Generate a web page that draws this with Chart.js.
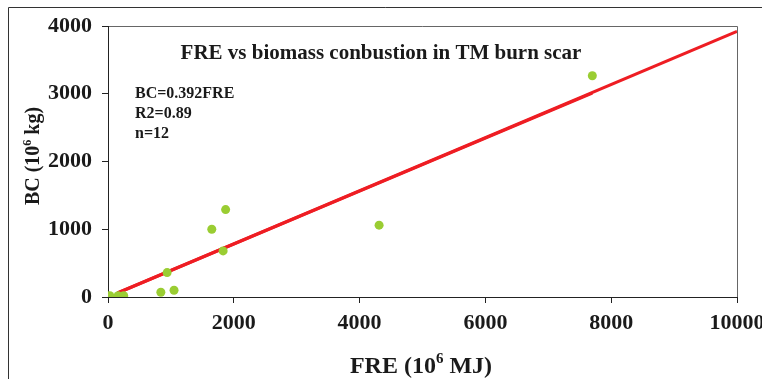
<!DOCTYPE html>
<html>
<head>
<meta charset="utf-8">
<script src="https://cdn.jsdelivr.net/npm/chart.js@4/dist/chart.umd.min.js"></script>
<style>
html,body{margin:0;padding:0;background:#fff;}
#wrap{width:762px;height:379px;}
</style>
</head>
<body>
<div id="wrap"><canvas id="c" width="762" height="379"></canvas></div>
<script>
// Observed data (FRE in 10^6 MJ, BC in 10^6 kg)
const freValues = [10, 30, 160, 250, 840, 940, 1050, 1650, 1830, 1870, 4310, 7700];
const bcValues  = [10, 20, 20, 20, 70, 360, 100, 1000, 680, 1290, 1060, 3265];
// Fitted line BC = 0.392 FRE (fit range and extension)
const fitX  = [150, 7700];
const fitY  = [59, 3010];
const extX  = [150, 10000];
const extY  = [59, 3920];
const xTicks = [0, 2000, 4000, 6000, 8000, 10000];
const yTicks = [0, 1000, 2000, 3000, 4000];
const chartTitle = 'FRE vs biomass conbustion in TM burn scar';
const eqLines = ['BC=0.392FRE', 'R2=0.89', 'n=12'];

const FONT = "'Liberation Serif','Times New Roman',serif";
const TXT = '#1a1a1a';

const pts = (xs, ys) => xs.map((x, i) => ({x, y: ys[i]}));

const decor = {
  id: 'decor',
  beforeDraw(chart) {
    const ctx = chart.ctx;
    ctx.save();
    ctx.strokeStyle = '#333';
    ctx.lineWidth = 1;
    ctx.beginPath();
    ctx.moveTo(8.5, 379); ctx.lineTo(8.5, 7.5); ctx.lineTo(762, 7.5);
    ctx.stroke();
    const a = chart.chartArea;
    ctx.strokeStyle = '#666';
    ctx.beginPath();
    ctx.moveTo(a.left, Math.round(a.top) + 0.5);
    ctx.lineTo(Math.round(a.right) + 0.5, Math.round(a.top) + 0.5);
    ctx.lineTo(Math.round(a.right) + 0.5, a.bottom);
    ctx.stroke();
    ctx.restore();
  },
  afterDraw(chart) {
    const ctx = chart.ctx;
    const a = chart.chartArea;
    ctx.save();
    ctx.fillStyle = TXT;
    // title
    ctx.font = 'bold 21px ' + FONT;
    ctx.textAlign = 'center';
    ctx.textBaseline = 'middle';
    ctx.fillText(chartTitle, 381, 54);
    // equation
    ctx.font = 'bold 16px ' + FONT;
    ctx.textAlign = 'left';
    eqLines.forEach((t, i) => ctx.fillText(t, 135, 94 + i * 20));
    // superscript text helper
    function supText(parts, x, y, rot, size) {
      ctx.save();
      ctx.translate(x, y);
      if (rot) ctx.rotate(-Math.PI / 2);
      const big = 'bold ' + size + 'px ' + FONT, small = 'bold ' + Math.round(size * 0.62) + 'px ' + FONT;
      let w = 0;
      parts.forEach(p => { ctx.font = p.sup ? small : big; w += ctx.measureText(p.t).width; });
      let cx = -w / 2;
      ctx.textAlign = 'left';
      ctx.textBaseline = 'alphabetic';
      const base = size * 0.33;
      parts.forEach(p => {
        ctx.font = p.sup ? small : big;
        ctx.fillText(p.t, cx, p.sup ? base - size * 0.4 : base);
        cx += ctx.measureText(p.t).width;
      });
      ctx.restore();
    }
    // x axis title
    supText([{t:'FRE (10'},{t:'6',sup:true},{t:' MJ)'}], 421, 365, false, 24);
    // y axis title
    supText([{t:'BC (10'},{t:'6',sup:true},{t:' kg)'}], 32, 156, true, 20);
    ctx.restore();
  }
};

new Chart(document.getElementById('c'), {
  type: 'scatter',
  data: {
    datasets: [
      { label: 'fit', type: 'line', data: pts(fitX, fitY), borderColor: '#ee1d23', borderWidth: 3, pointRadius: 0, fill: false, order: 2 },
      { label: 'ext', type: 'line', data: pts(extX, extY), borderColor: '#ee1d23', borderWidth: 3, pointRadius: 0, fill: false, order: 2 },
      { label: 'obs', data: pts(freValues, bcValues), backgroundColor: '#9acd32', borderColor: '#9acd32', pointRadius: 4.5, pointHoverRadius: 4.5, borderWidth: 0, order: 1 }
    ]
  },
  options: {
    responsive: false,
    animation: false,
    events: [],
    layout: { padding: { left: 0, right: 25, top: 26, bottom: 0 } },
    plugins: { legend: { display: false }, tooltip: { enabled: false }, title: { display: false } },
    scales: {
      x: {
        type: 'linear', min: 0, max: 10000,
        afterBuildTicks: s => { s.ticks = xTicks.map(v => ({value: v})); },
        afterFit: s => { s.height = 82; s.paddingLeft = 0; s.paddingRight = 0; },
        grid: { display: true, drawOnChartArea: false, drawTicks: true, tickLength: 6, color: '#222', lineWidth: 1 },
        border: { display: true, color: '#222', width: 1 },
        ticks: { color: TXT, font: { family: FONT, size: 22, weight: 'bold' }, padding: 7, maxRotation: 0, autoSkip: false, callback: v => String(v) }
      },
      y: {
        type: 'linear', min: 0, max: 4000,
        afterBuildTicks: s => { s.ticks = yTicks.map(v => ({value: v})); },
        afterFit: s => { s.width = 108; s.paddingTop = 0; s.paddingBottom = 0; },
        grid: { display: true, drawOnChartArea: false, drawTicks: true, tickLength: 6, color: '#222', lineWidth: 1 },
        border: { display: true, color: '#222', width: 1 },
        ticks: { color: TXT, font: { family: FONT, size: 22, weight: 'bold' }, padding: 10, callback: v => String(v) }
      }
    }
  },
  plugins: [decor]
});
</script>
</body>
</html>
